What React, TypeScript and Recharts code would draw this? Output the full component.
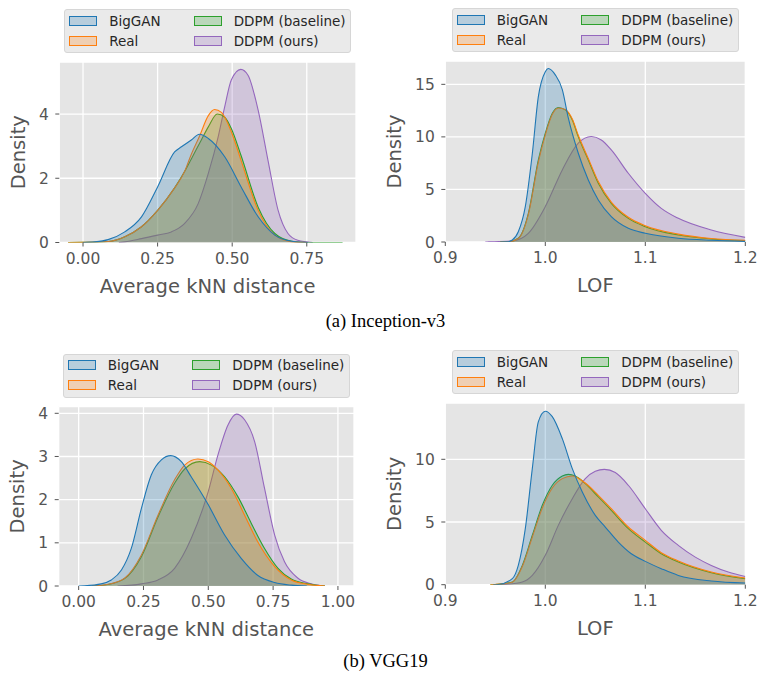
import React from 'react';
import { AreaChart, Area, XAxis, YAxis, CartesianGrid } from 'recharts';

type Pt = [number, number];

// ---------- series meta ----------
const SERIES_KEYS = ['biggan', 'real', 'base', 'ours'];
const SERIES_NAMES = ['BigGAN', 'Real', 'DDPM (baseline)', 'DDPM (ours)'];
const SERIES_COLORS = ['#1f77b4', '#ff7f0e', '#2ca02c', '#9467bd'];

// ---------- (a) Inception-v3 : Average kNN distance ----------
const incKnnBigGAN: Pt[] = [[0.0, 0], [0.04, 0.02], [0.084, 0.09], [0.14, 0.33], [0.196, 0.8], [0.25, 1.73], [0.307, 2.82], [0.33, 2.98], [0.363, 3.19], [0.39, 3.37], [0.42, 3.24], [0.475, 2.67], [0.53, 1.73], [0.587, 0.8], [0.643, 0.23], [0.70, 0.04], [0.754, 0]];
const incKnnReal: Pt[] = [[-0.05, 0], [0.0, 0.005], [0.084, 0.03], [0.14, 0.18], [0.196, 0.49], [0.25, 1.0], [0.307, 1.7], [0.34, 2.2], [0.363, 2.75], [0.39, 3.3], [0.42, 3.95], [0.441, 4.14], [0.464, 4.05], [0.497, 3.45], [0.53, 2.55], [0.587, 1.0], [0.643, 0.23], [0.70, 0.02], [0.75, 0]];
const incKnnBase: Pt[] = [[-0.05, 0], [0.0, 0.005], [0.084, 0.03], [0.14, 0.18], [0.196, 0.49], [0.25, 1.0], [0.307, 1.7], [0.34, 2.2], [0.363, 2.6], [0.397, 3.2], [0.42, 3.6], [0.45, 4.0], [0.475, 3.9], [0.497, 3.55], [0.53, 2.7], [0.587, 1.1], [0.643, 0.28], [0.70, 0.04], [0.76, 0], [0.87, 0]];
const incKnnOurs: Pt[] = [[0.12, 0], [0.14, 0.02], [0.196, 0.12], [0.25, 0.23], [0.296, 0.33], [0.34, 0.59], [0.386, 1.21], [0.42, 2.15], [0.453, 3.29], [0.475, 4.23], [0.497, 5.06], [0.529, 5.39], [0.553, 5.21], [0.587, 4.12], [0.62, 2.56], [0.654, 1.0], [0.687, 0.28], [0.72, 0.07], [0.77, 0]];

// ---------- (a) Inception-v3 : LOF ----------
const incLofBigGAN: Pt[] = [[0.955, 0], [0.962, 0.02], [0.967, 0.19], [0.973, 0.98], [0.98, 3.37], [0.987, 8.4], [0.993, 13.8], [1.0, 16.2], [1.003, 16.5], [1.01, 15.9], [1.017, 14.5], [1.023, 11.8], [1.033, 8.44], [1.043, 5.9], [1.053, 4.0], [1.066, 2.41], [1.083, 1.3], [1.1, 0.83], [1.133, 0.35], [1.166, 0.16], [1.2, 0.06]];
const incLofReal: Pt[] = [[0.955, 0], [0.963, 0.02], [0.973, 0.33], [0.983, 2.6], [0.993, 7.6], [1.0, 10.2], [1.007, 12.15], [1.013, 12.75], [1.02, 12.6], [1.027, 11.7], [1.033, 10.15], [1.043, 7.95], [1.053, 5.75], [1.066, 3.8], [1.083, 2.35], [1.1, 1.55], [1.133, 0.75], [1.166, 0.33], [1.2, 0.15]];
const incLofBase: Pt[] = [[0.955, 0], [0.963, 0.02], [0.973, 0.35], [0.983, 2.7], [0.993, 7.8], [1.0, 10.35], [1.007, 12.25], [1.013, 12.8], [1.02, 12.57], [1.027, 11.6], [1.033, 10.0], [1.043, 7.8], [1.053, 5.6], [1.066, 3.68], [1.083, 2.25], [1.1, 1.46], [1.133, 0.67], [1.166, 0.29], [1.2, 0.13]];
const incLofOurs: Pt[] = [[0.94, 0], [0.9435, 0.01], [0.967, 0.1], [0.983, 0.83], [1.0, 3.37], [1.017, 6.86], [1.033, 9.4], [1.046, 10.03], [1.056, 9.7], [1.066, 8.76], [1.083, 6.54], [1.1, 4.63], [1.116, 3.2], [1.133, 2.25], [1.166, 1.14], [1.2, 0.44]];

// ---------- (b) VGG19 : Average kNN distance ----------
const vggKnnBigGAN: Pt[] = [[0.0, 0], [0.023, 0.005], [0.087, 0.05], [0.126, 0.14], [0.165, 0.37], [0.203, 0.87], [0.242, 1.8], [0.28, 2.57], [0.319, 2.92], [0.355, 3.02], [0.396, 2.88], [0.434, 2.53], [0.5, 1.88], [0.563, 1.18], [0.627, 0.64], [0.69, 0.25], [0.756, 0.08], [0.82, 0.02], [0.88, 0]];
const vggKnnReal: Pt[] = [[0.05, 0], [0.113, 0.04], [0.177, 0.18], [0.242, 0.72], [0.306, 1.64], [0.37, 2.46], [0.409, 2.8], [0.46, 2.94], [0.5, 2.88], [0.537, 2.69], [0.589, 2.26], [0.64, 1.64], [0.69, 1.03], [0.756, 0.45], [0.82, 0.14], [0.884, 0.04], [0.95, 0]];
const vggKnnBase: Pt[] = [[0.05, 0], [0.113, 0.035], [0.177, 0.17], [0.242, 0.68], [0.306, 1.6], [0.37, 2.38], [0.409, 2.71], [0.467, 2.88], [0.512, 2.8], [0.563, 2.53], [0.614, 2.07], [0.666, 1.45], [0.717, 0.87], [0.769, 0.41], [0.82, 0.16], [0.884, 0.05], [0.95, 0]];
const vggKnnOurs: Pt[] = [[0.15, 0], [0.242, 0.05], [0.306, 0.14], [0.37, 0.41], [0.434, 1.1], [0.5, 2.19], [0.537, 3.03], [0.576, 3.73], [0.608, 3.98], [0.64, 3.85], [0.679, 3.34], [0.717, 2.26], [0.756, 1.18], [0.794, 0.56], [0.846, 0.18], [0.897, 0.05], [0.95, 0]];

// ---------- (b) VGG19 : LOF ----------
const vggLofBigGAN: Pt[] = [[0.948, 0], [0.953, 0.02], [0.967, 0.48], [0.973, 1.54], [0.98, 4.47], [0.987, 9.26], [0.993, 12.98], [1.0, 13.83], [1.007, 13.4], [1.017, 11.65], [1.027, 9.26], [1.037, 7.39], [1.05, 5.53], [1.06, 4.6], [1.073, 3.4], [1.086, 2.47], [1.1, 1.86], [1.116, 1.28], [1.133, 0.74], [1.166, 0.29], [1.2, 0.13]];
const vggLofReal: Pt[] = [[0.945, 0], [0.95, 0.02], [0.967, 0.2], [0.977, 1.45], [0.987, 3.8], [0.997, 6.12], [1.007, 7.71], [1.017, 8.46], [1.027, 8.67], [1.04, 8.11], [1.053, 7.13], [1.066, 6.06], [1.083, 4.6], [1.1, 3.54], [1.116, 2.55], [1.133, 1.89], [1.166, 1.01], [1.2, 0.53]];
const vggLofBase: Pt[] = [[0.945, 0], [0.95, 0.02], [0.967, 0.21], [0.977, 1.54], [0.987, 3.94], [0.997, 6.33], [1.007, 7.93], [1.017, 8.67], [1.023, 8.8], [1.03, 8.67], [1.04, 8.06], [1.053, 7.0], [1.066, 5.93], [1.083, 4.47], [1.1, 3.4], [1.116, 2.47], [1.133, 1.81], [1.166, 0.96], [1.2, 0.48]];
const vggLofOurs: Pt[] = [[0.955, 0], [0.96, 0.02], [0.977, 0.21], [0.987, 0.74], [1.0, 2.34], [1.013, 4.73], [1.027, 6.86], [1.04, 8.46], [1.05, 9.04], [1.059, 9.2], [1.07, 8.94], [1.083, 7.93], [1.1, 6.06], [1.116, 4.34], [1.133, 3.14], [1.15, 2.2], [1.166, 1.54], [1.183, 1.01], [1.2, 0.66]];

// ---------- ticks ----------
const incKnnXTicks = [0, 0.25, 0.5, 0.75];
const incKnnYTicks = [0, 2, 4];
const incLofXTicks = [0.9, 1.0, 1.1, 1.2];
const incLofYTicks = [0, 5, 10, 15];
const vggKnnXTicks = [0, 0.25, 0.5, 0.75, 1.0];
const vggKnnYTicks = [0, 1, 2, 3, 4];
const vggLofXTicks = [0.9, 1.0, 1.1, 1.2];
const vggLofYTicks = [0, 5, 10];

const CAPTIONS = ['(a) Inception-v3', '(b) VGG19'];

// ---------- helpers ----------
function buildTable(series: Pt[][]) {
  const map = new Map<number, any>();
  series.forEach((pts, i) => {
    pts.forEach(([x, y]) => {
      const row = map.get(x) ?? { x };
      row[SERIES_KEYS[i]] = y;
      map.set(x, row);
    });
  });
  return Array.from(map.values()).sort((a, b) => a.x - b.x);
}

function rgba(hex: string, a: number) {
  const n = parseInt(hex.slice(1), 16);
  return `rgba(${(n >> 16) & 255},${(n >> 8) & 255},${n & 255},${a})`;
}

const FONT = '"DejaVu Sans", Verdana, sans-serif';
const BOX_W = 381;
const BOX_H = 310;
const Y_AXIS_W = 50;
const X_AXIS_H = 30;

type PanelCfg = {
  boxLeft: number; boxTop: number;
  L: number; T: number; R: number; B: number;
  xDomain: [number, number]; yDomain: [number, number];
  xTicks: number[]; yTicks: number[]; xDigits: number;
  series: Pt[][]; xTitle: string; yTitleX: number;
};

const PANELS: PanelCfg[] = [
  { boxLeft: 0, boxTop: 0, L: 59.3, T: 62, R: 356, B: 242.5, xDomain: [-0.0795, 0.915], yDomain: [0, 5.62], xTicks: incKnnXTicks, yTicks: incKnnYTicks, xDigits: 2, series: [incKnnBigGAN, incKnnReal, incKnnBase, incKnnOurs], xTitle: 'Average kNN distance', yTitleX: 24.5 },
  { boxLeft: 381, boxTop: 0, L: 445.3, T: 61, R: 745.3, B: 242, xDomain: [0.9, 1.2], yDomain: [0, 17.22], xTicks: incLofXTicks, yTicks: incLofYTicks, xDigits: 1, series: [incLofBigGAN, incLofReal, incLofBase, incLofOurs], xTitle: 'LOF', yTitleX: 401 },
  { boxLeft: 0, boxTop: 340, L: 58.7, T: 406.7, R: 354, B: 586, xDomain: [-0.077, 1.062], yDomain: [0, 4.153], xTicks: vggKnnXTicks, yTicks: vggKnnYTicks, xDigits: 2, series: [vggKnnBigGAN, vggKnnReal, vggKnnBase, vggKnnOurs], xTitle: 'Average kNN distance', yTitleX: 24.5 },
  { boxLeft: 381, boxTop: 340, L: 445.3, T: 403, R: 745.3, B: 584.7, xDomain: [0.9, 1.2], yDomain: [0, 14.49], xTicks: vggLofXTicks, yTicks: vggLofYTicks, xDigits: 1, series: [vggLofBigGAN, vggLofReal, vggLofBase, vggLofOurs], xTitle: 'LOF', yTitleX: 401 },
];

const tickStyle = { fill: '#555555', fontSize: 15.5, fontFamily: FONT };

function Panel({ cfg }: { cfg: PanelCfg }) {
  const data = buildTable(cfg.series);
  const margin = {
    top: cfg.T - cfg.boxTop,
    left: cfg.L - cfg.boxLeft - Y_AXIS_W,
    right: cfg.boxLeft + BOX_W - cfg.R,
    bottom: cfg.boxTop + BOX_H - cfg.B - X_AXIS_H,
  };
  const order = [3, 2, 1, 0];
  return (
    <div style={{ position: 'absolute', left: cfg.boxLeft, top: cfg.boxTop, width: BOX_W, height: BOX_H }}>
      <AreaChart width={BOX_W} height={BOX_H} data={data} margin={margin}>
        <CartesianGrid fill="#e5e5e5" stroke="#ffffff" strokeWidth={1.3} />
        <XAxis
          dataKey="x"
          type="number"
          domain={cfg.xDomain}
          allowDataOverflow
          ticks={cfg.xTicks}
          tickFormatter={(v: number) => v.toFixed(cfg.xDigits)}
          height={X_AXIS_H}
          axisLine={false}
          tickLine={{ stroke: '#555555' }}
          tickSize={4}
          tickMargin={6}
          tick={tickStyle}
          interval={0}
        />
        <YAxis
          type="number"
          domain={cfg.yDomain}
          allowDataOverflow
          ticks={cfg.yTicks}
          width={Y_AXIS_W}
          axisLine={false}
          tickLine={{ stroke: '#555555' }}
          tickSize={4}
          tickMargin={6.5}
          tick={tickStyle}
          interval={0}
        />
        {order.map((i) => (
          <Area
            key={SERIES_KEYS[i]}
            type="monotone"
            dataKey={SERIES_KEYS[i]}
            name={SERIES_NAMES[i]}
            stroke={SERIES_COLORS[i]}
            strokeWidth={1.1}
            fill={SERIES_COLORS[i]}
            fillOpacity={0.25}
            connectNulls
            dot={false}
            activeDot={false}
            isAnimationActive={false}
          />
        ))}
      </AreaChart>
    </div>
  );
}

function LegendBox({ cfg }: { cfg: PanelCfg }) {
  const w = 287;
  const h = 44;
  const left = (cfg.L + cfg.R) / 2 - w / 2;
  const top = cfg.T - 53;
  const cols = [5, 129.5];
  const rows = [11.8, 31.7];
  return (
    <div style={{ position: 'absolute', left, top, width: w, height: h, boxSizing: 'border-box', background: '#eaeaea', border: '1px solid #d6d6d6', borderRadius: 3 }}>
      {SERIES_NAMES.map((name, i) => {
        const c = Math.floor(i / 2);
        const r = i % 2;
        return (
          <React.Fragment key={name}>
            <div style={{ position: 'absolute', left: cols[c] - 1, top: rows[r] - 1 - 5, width: 28, height: 10, boxSizing: 'border-box', background: rgba(SERIES_COLORS[i], 0.25), border: `1.2px solid ${SERIES_COLORS[i]}` }} />
            <div style={{ position: 'absolute', left: cols[c] - 1 + 40, top: rows[r] - 1 - 10, height: 20, lineHeight: '20px', fontFamily: FONT, fontSize: 13.5, color: '#262626', whiteSpace: 'nowrap' }}>{name}</div>
          </React.Fragment>
        );
      })}
    </div>
  );
}

export default function App() {
  return (
    <div style={{ position: 'absolute', left: 0, top: 0, width: 762, height: 683, background: '#ffffff', overflow: 'hidden' }}>
      {PANELS.map((p, i) => <Panel key={i} cfg={p} />)}
      {PANELS.map((p, i) => <LegendBox key={'l' + i} cfg={p} />)}
      <svg width={762} height={683} style={{ position: 'absolute', left: 0, top: 0, pointerEvents: 'none' }}>
        {PANELS.map((p, i) => {
          const cy = (p.T + p.B) / 2;
          return (
            <React.Fragment key={'t' + i}>
              <text x={(p.L + p.R) / 2} y={p.B + 50} textAnchor="middle" fontFamily={FONT} fontSize={19.5} fill="#555555">{p.xTitle}</text>
              <text x={p.yTitleX} y={cy} transform={`rotate(-90, ${p.yTitleX}, ${cy})`} textAnchor="middle" fontFamily={FONT} fontSize={19.5} fill="#555555">Density</text>
            </React.Fragment>
          );
        })}
        <text x={385.5} y={326.7} textAnchor="middle" fontFamily='"Liberation Serif", "Times New Roman", serif' fontSize={18.5} fill="#000">{CAPTIONS[0]}</text>
        <text x={385.5} y={666.7} textAnchor="middle" fontFamily='"Liberation Serif", "Times New Roman", serif' fontSize={18.5} fill="#000">{CAPTIONS[1]}</text>
      </svg>
    </div>
  );
}
